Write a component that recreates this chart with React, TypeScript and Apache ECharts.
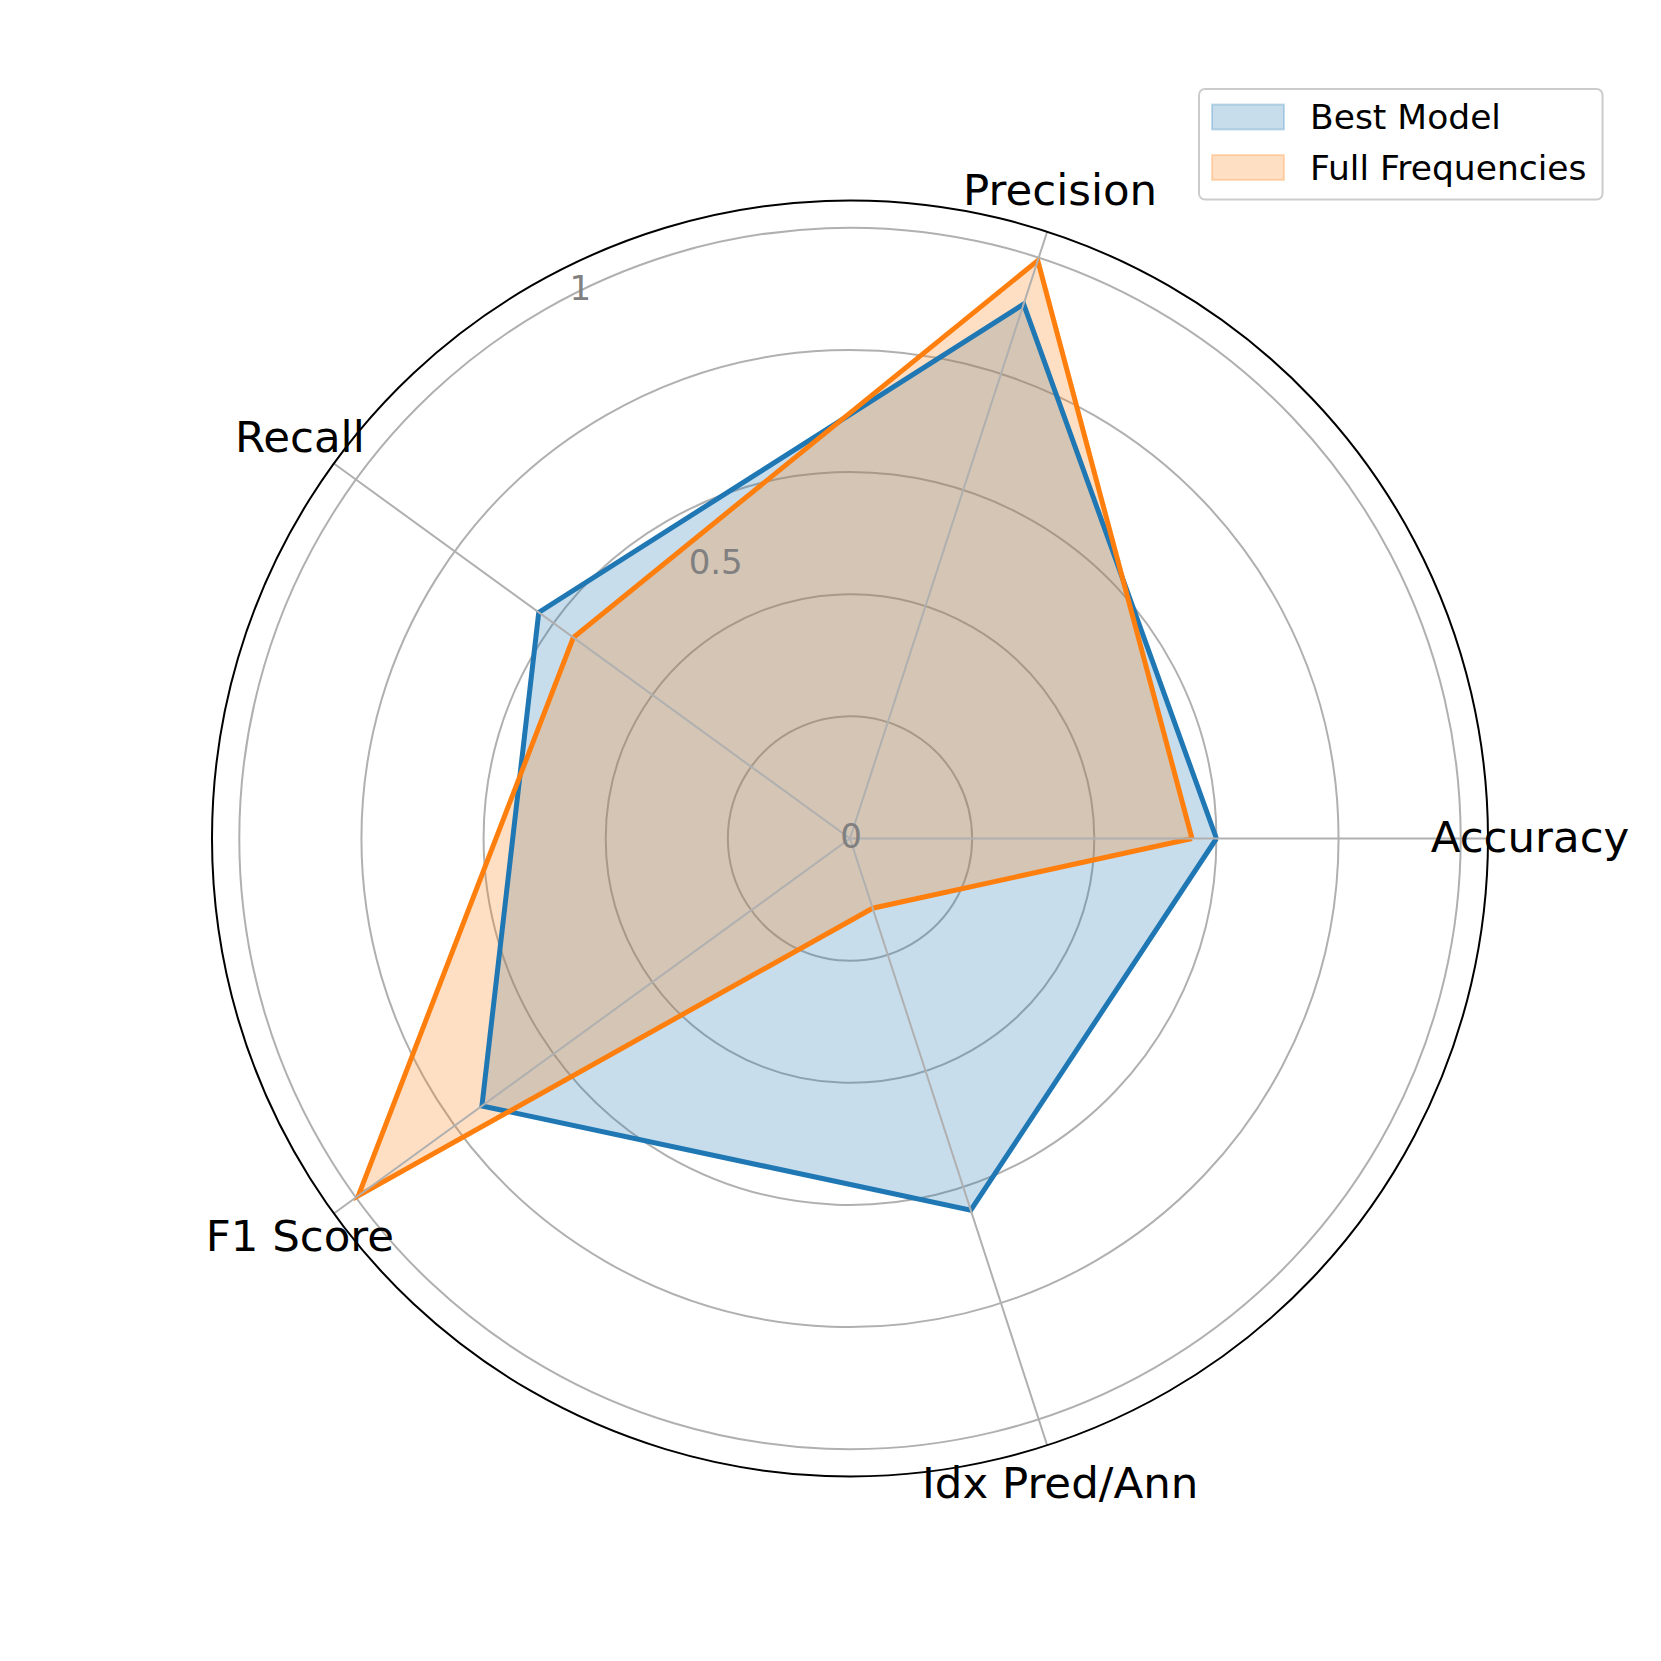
import React, { useEffect, useRef } from "react";
import * as echarts from "echarts";

// ---- data ----
const CATEGORIES = ["Accuracy", "Precision", "Recall", "F1 Score", "Idx Pred/Ann"];
const CATEGORY_ANGLES = [0, 72, 144, 216, 288];
const BEST_MODEL = [0.6, 0.92, 0.63, 0.745, 0.64];
const FULL_FREQUENCIES = [0.56, 0.995, 0.56, 0.995, 0.12];
const SERIES_NAMES = ["Best Model", "Full Frequencies"];
const RADIAL_TICKS = [0, 0.5, 1];
const RADIAL_TICK_LABELS = ["0", "0.5", "1"];

// ---- layout ----
const W = 1661;
const H = 1661;
const CX = 850;
const CY = 838.5;
const R_OUT = 638;
const RMAX = 1.0447;
const UNIT = R_OUT / RMAX;
const LABEL_R = 680;
const TICK_LABEL_ANGLE = 116.3;
const FONT = "DejaVu Sans";

const BLUE = "#1f77b4";
const ORANGE = "#ff7f0e";
const BLUE_FILL = "rgba(31,119,180,0.25)";
const ORANGE_FILL = "rgba(255,127,14,0.25)";

function closedData(values: number[]) {
  const d = values.map((v, i) => [v, CATEGORY_ANGLES[i]]);
  d.push([values[0], 360]);
  return d;
}

export default function App() {
  const ref = useRef<HTMLDivElement>(null);
  useEffect(() => {
    if (!ref.current) return;
    const chart = echarts.init(ref.current, null, { renderer: "svg" });

    const catLabels = CATEGORIES.map((name, i) => {
      const a = (CATEGORY_ANGLES[i] * Math.PI) / 180;
      return {
        type: "text",
        x: CX + LABEL_R * Math.cos(a),
        y: CY - LABEL_R * Math.sin(a) - 2,
        z: 100,
        style: {
          text: name,
          fill: "#000",
          font: `43.5px "${FONT}"`,
          align: "center",
          verticalAlign: "middle",
        },
      };
    });
    const ta = (TICK_LABEL_ANGLE * Math.PI) / 180;
    const tickLabels = RADIAL_TICKS.map((v, i) => ({
      type: "text",
      x: CX + v * UNIT * Math.cos(ta) + 1,
      y: CY - v * UNIT * Math.sin(ta) - 3,
      z: 100,
      style: {
        text: RADIAL_TICK_LABELS[i],
        fill: "#808080",
        font: `34px "${FONT}"`,
        align: "center",
        verticalAlign: "middle",
      },
    }));

    const splitColors = ["#b0b0b0", "#b0b0b0", "#b0b0b0", "#b0b0b0", "#b0b0b0", "#b0b0b0", "rgba(0,0,0,0)"];

    chart.setOption({
      animation: false,
      backgroundColor: "#ffffff",
      polar: { center: [CX, CY], radius: R_OUT },
      angleAxis: {
        type: "value",
        min: 0,
        max: 360,
        interval: 72,
        startAngle: 0,
        clockwise: false,
        z: 3,
        axisLine: { show: true, lineStyle: { color: "#000000", width: 2 } },
        axisTick: { show: false },
        axisLabel: { show: false },
        splitLine: { show: true, lineStyle: { color: "#b0b0b0", width: 2 } },
      },
      radiusAxis: {
        type: "value",
        min: 0,
        max: RMAX,
        interval: 0.2,
        axisLine: { show: false },
        axisTick: { show: false },
        axisLabel: { show: false },
        splitLine: { show: true, lineStyle: { color: splitColors, width: 2 } },
      },
      legend: {
        left: 1199,
        top: 89,
        orient: "vertical",
        padding: [8, 16, 12, 12],
        itemGap: 10.6,
        itemWidth: 72,
        itemHeight: 25,
        icon: "rect",
        backgroundColor: "rgba(255,255,255,0.8)",
        borderColor: "#cccccc",
        borderWidth: 2,
        borderRadius: 6,
        textStyle: {
          fontSize: 34.5,
          fontFamily: FONT,
          color: "#000",
          lineHeight: 40,
          padding: [0, 0, 0, 21],
        },
        data: [
          { name: SERIES_NAMES[0], itemStyle: { color: BLUE_FILL, borderColor: BLUE_FILL, borderWidth: 2 } },
          { name: SERIES_NAMES[1], itemStyle: { color: ORANGE_FILL, borderColor: ORANGE_FILL, borderWidth: 2 } },
        ],
      },
      series: [
        {
          name: SERIES_NAMES[0],
          type: "line",
          coordinateSystem: "polar",
          data: closedData(BEST_MODEL),
          symbol: "none",
          z: 2,
          lineStyle: { color: BLUE, width: 5, join: "miter" },
          itemStyle: { color: BLUE },
          areaStyle: { color: BLUE_FILL, opacity: 1 },
        },
        {
          name: SERIES_NAMES[1],
          type: "line",
          coordinateSystem: "polar",
          data: closedData(FULL_FREQUENCIES),
          symbol: "none",
          z: 2,
          lineStyle: { color: ORANGE, width: 5, join: "miter" },
          itemStyle: { color: ORANGE },
          areaStyle: { color: ORANGE_FILL, opacity: 1 },
        },
      ],
      graphic: [...catLabels, ...tickLabels],
    });
    return () => chart.dispose();
  }, []);
  return <div ref={ref} style={{ position: "absolute", left: 0, top: 0, width: W, height: H }} />;
}
